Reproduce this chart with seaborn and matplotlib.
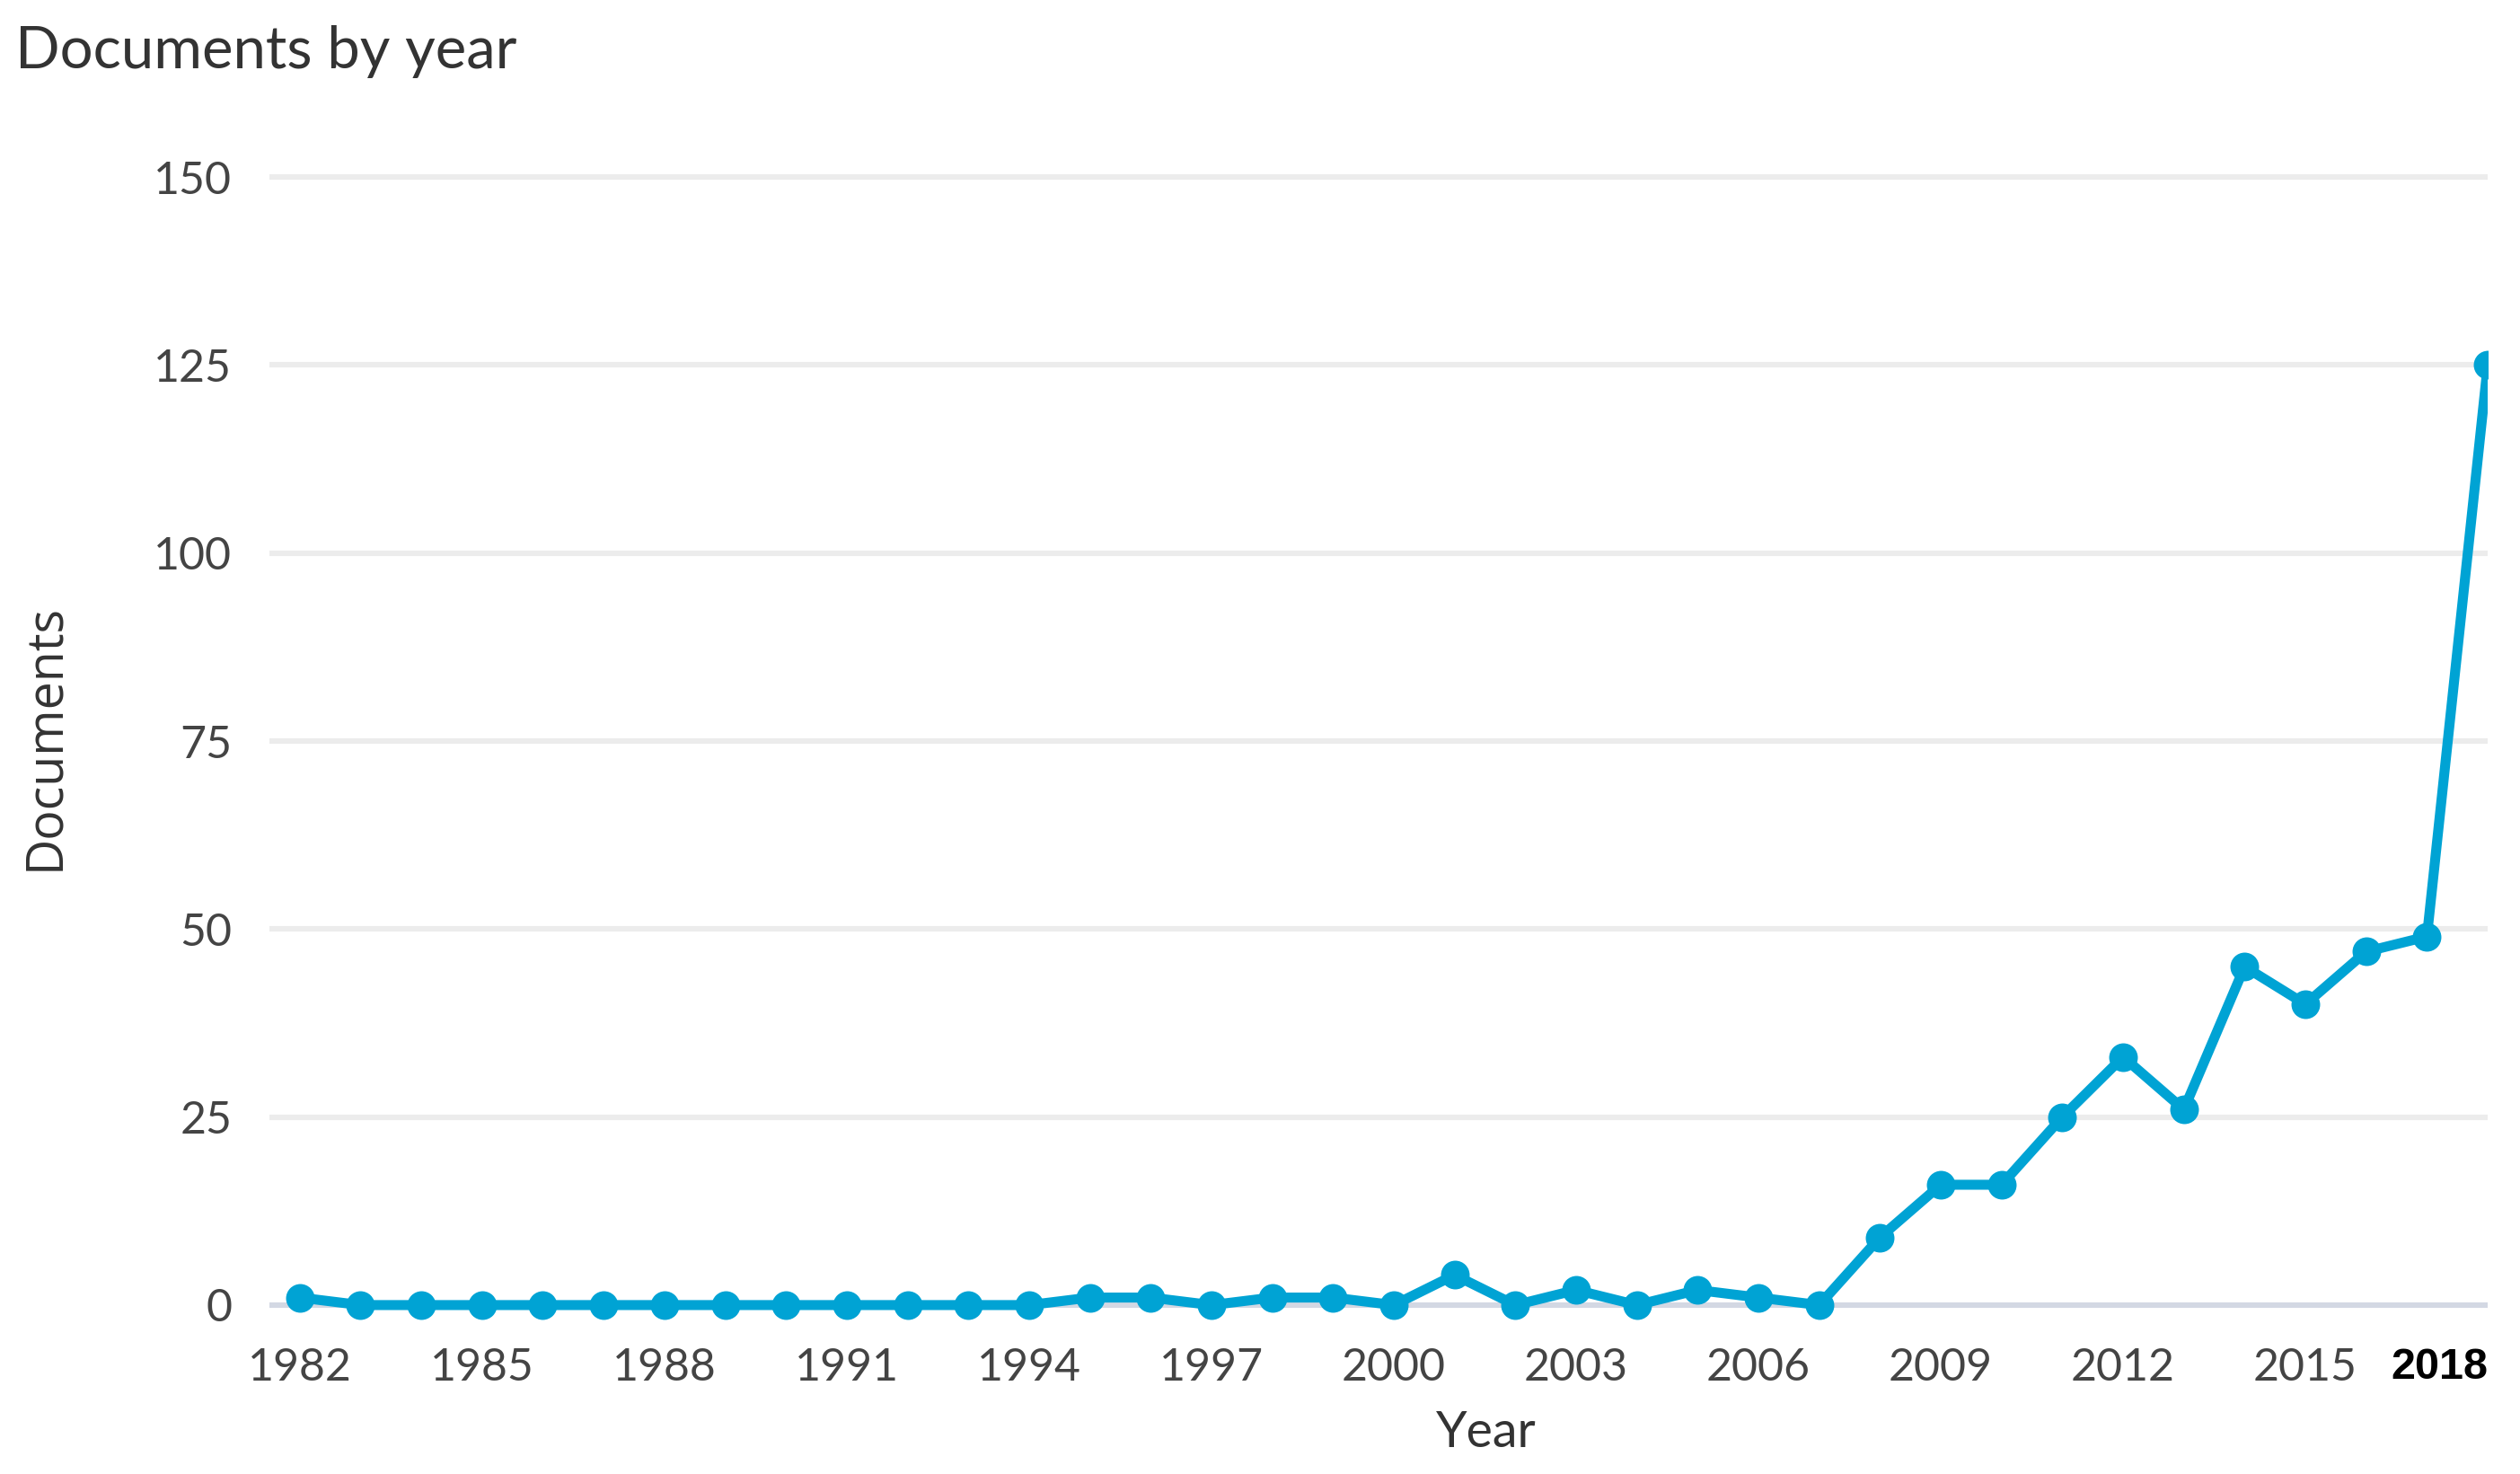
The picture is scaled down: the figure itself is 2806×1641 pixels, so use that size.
import matplotlib
matplotlib.use("Agg")
import matplotlib.pyplot as plt
import seaborn as sns
import pandas as pd

# Data
years = list(range(1982, 2019))
documents = [1, 0, 0, 0, 0, 0, 0, 0, 0, 0, 0, 0, 0, 1, 1, 0, 1, 1, 0, 4,
             0, 2, 0, 2, 1, 0, 9, 16, 16, 25, 33, 26, 45, 40, 47, 49, 125]
y_ticks = [0, 25, 50, 75, 100, 125, 150]
x_ticks = list(range(1982, 2019, 3))

df = pd.DataFrame({"Year": years, "Documents": documents})

sns.set_style("white")
plt.rcParams["font.family"] = ["Lato", "DejaVu Sans"]

fig = plt.figure(figsize=(14.03, 8.205), dpi=200)
ax = fig.add_axes([0.1069, 0.0942, 0.8803, 0.7959])

# grid lines
for t in y_ticks:
    col = "#d3d8e3" if t == 0 else "#ececec"
    ax.axhline(t, color=col, lw=2.2, zorder=0)

sns.lineplot(data=df, x="Year", y="Documents", ax=ax, color="#00a3d4",
             marker="o", markersize=11.5, markeredgewidth=0, linewidth=4,
             clip_on=True, zorder=3)

ax.set_xlim(1981.5, 2018)
ax.set_ylim(-4, 152)
for s in ax.spines.values():
    s.set_visible(False)

ax.set_yticks(y_ticks)
ax.set_yticklabels([str(t) for t in y_ticks], fontsize=18, color="#444444")
ax.set_xticks(x_ticks)
ax.set_xticklabels([str(t) for t in x_ticks], fontsize=18, color="#444444")
ax.tick_params(axis="y", length=0, pad=15)
ax.tick_params(axis="x", length=0, pad=5)

# highlight the last year label
last = ax.get_xticklabels()[-1]
last.set_fontweight("bold")
last.set_color("black")
last.set_family(["Liberation Sans", "DejaVu Sans"])
last.set_fontsize(17.5)
last.set_horizontalalignment("right")

ax.set_xlabel("Year", fontsize=20, color="#333333")
ax.set_ylabel("Documents", fontsize=20, color="#333333",
              family=["Open Sans", "DejaVu Sans"])
ax.xaxis.set_label_coords(0.5486, -0.064)
ax.yaxis.set_label_coords(-0.0895, 0.51)

fig.text(0.006, 0.965, "Documents by year", fontsize=23.5, color="#333333",
         va="center", ha="left")

fig.savefig("out.png", dpi=200, facecolor="white")
